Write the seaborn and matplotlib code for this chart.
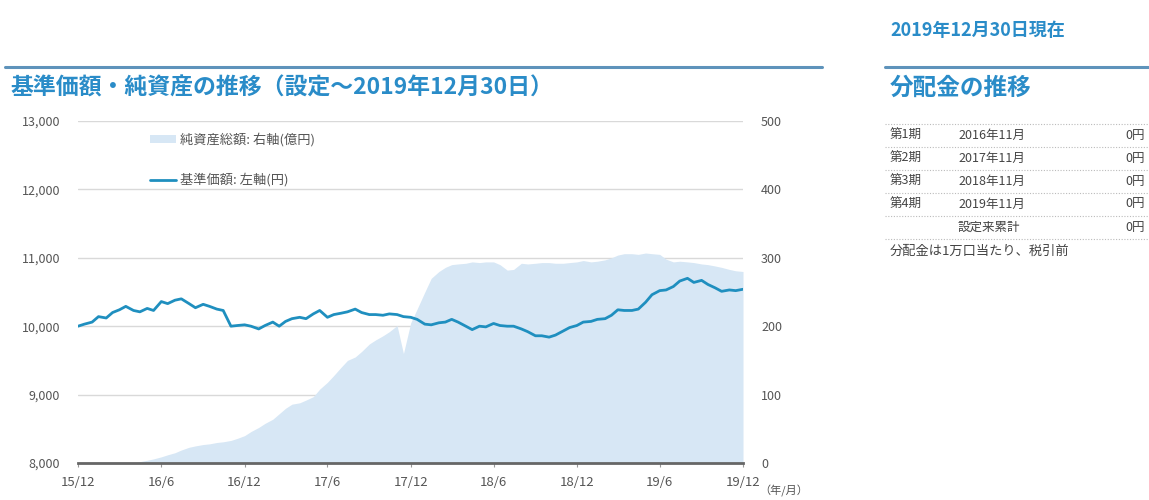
import pandas as pd
import seaborn as sns
import matplotlib.pyplot as plt
from matplotlib.lines import Line2D
from matplotlib.patches import Patch

# 半月ごとの観測日（2015/12 ～ 2019/12）
dates = pd.date_range("2015-12-01", "2019-12-01", freq="SMS")

# 基準価額（円）: 左軸
nav = [
    10000, 10030, 10060, 10140, 10120, 10200, 10240, 10290, 10230, 10210,
    10260, 10230, 10360, 10330, 10380, 10400, 10330, 10270, 10320, 10290,
    10250, 10230, 10000, 10010, 10020, 10000, 9960, 10010, 10060, 10000,
    10070, 10110, 10130, 10110, 10180, 10230, 10130, 10170, 10190, 10210,
    10250, 10200, 10170, 10170, 10160, 10180, 10170, 10140, 10130, 10100,
    10030, 10020, 10050, 10060, 10100, 10060, 10000, 9950, 10000, 9990,
    10040, 10010, 10000, 10000, 9960, 9920, 9860, 9860, 9840, 9870,
    9930, 9980, 10010, 10060, 10070, 10100, 10110, 10160, 10240, 10230,
    10230, 10250, 10350, 10460, 10520, 10530, 10580, 10660, 10700, 10640,
    10670, 10610, 10560, 10510, 10530, 10520, 10540,
]

# 純資産総額（億円）: 右軸
net_assets = [
    0, 0, 0, 0, 0, 0, 0, 0, 0, 2,
    4, 6, 9, 12, 15, 19, 23, 25, 27, 28,
    30, 31, 33, 36, 40, 46, 52, 58, 64, 72,
    80, 86, 88, 92, 97, 108, 118, 128, 140, 150,
    155, 163, 174, 180, 186, 192, 201, 160, 205, 225,
    250, 270, 280, 286, 290, 291, 292, 294, 293, 294,
    294, 290, 282, 283, 292, 291, 292, 293, 293, 292,
    292, 293, 294, 296, 294, 295, 297, 300, 304, 306,
    306, 305, 307, 306, 305, 298, 294, 295, 294, 293,
    291, 290, 288, 286, 283, 281, 280,
]

left_ticks = [8000, 9000, 10000, 11000, 12000, 13000]
right_ticks = [0, 100, 200, 300, 400, 500]
x_ticks = pd.date_range("2015-12-01", "2019-12-01", freq="6MS")
x_labels = ["15/12", "16/6", "16/12", "17/6", "17/12", "18/6", "18/12", "19/6", "19/12"]

periods = ["第1期", "第2期", "第3期", "第4期", ""]
pay_months = ["2016年11月", "2017年11月", "2018年11月", "2019年11月", "設定来累計"]
payouts = ["0円", "0円", "0円", "0円", "0円"]

df = pd.DataFrame({"date": dates, "nav": nav, "assets": net_assets})

sns.set_theme(style="white")
plt.rcParams["font.family"] = ["Noto Sans CJK JP", "DejaVu Sans"]

BLUE = "#2a8cc8"
LINE = "#1f8fbf"
AREA = "#d7e7f5"
GRAY = "#555555"

fig = plt.figure(figsize=(11.49, 5.0), dpi=100)
fig.patch.set_facecolor("white")
ax = fig.add_axes([78 / 1149, 1 - 463 / 500, 665 / 1149, 342 / 500])
ax2 = ax.twinx()
ax.set_zorder(ax2.get_zorder() + 1)
ax.patch.set_visible(False)

# 純資産総額（面）
ax2.fill_between(df["date"], 0, df["assets"], color=AREA, linewidth=0, zorder=2)
ax2.set_ylim(0, 500)
ax2.set_yticks(right_ticks)
ax2.set_yticklabels([str(v) for v in right_ticks])
ax2.set_axisbelow(True)
ax2.grid(axis="y", color="#d9d9d9", linewidth=1.0)
ax2.grid(axis="x", visible=False)

# 基準価額（線）
sns.lineplot(data=df, x="date", y="nav", ax=ax, color=LINE, linewidth=2.0, legend=False)
ax.set_ylim(8000, 13000)
ax.set_yticks(left_ticks)
ax.set_yticklabels([f"{v:,}" for v in left_ticks])
ax.set_xlim(dates[0], dates[-1])
ax.set_xticks(x_ticks)
ax.set_xticklabels(x_labels)
ax.set_xlabel("")
ax.set_ylabel("")
ax.grid(False)

for a in (ax, ax2):
    for s in ("top", "left", "right", "bottom"):
        a.spines[s].set_visible(False)
ax.spines["bottom"].set_visible(True)
ax.spines["bottom"].set_color("#666666")
ax.spines["bottom"].set_linewidth(2.0)

ax.tick_params(axis="y", length=0, labelsize=9, labelcolor=GRAY, pad=13)
ax2.tick_params(axis="y", length=0, labelsize=9, labelcolor=GRAY, pad=13)
ax.tick_params(axis="x", length=3, width=0.8, color="#999999", direction="out",
               labelsize=9.5, labelcolor=GRAY, pad=6, bottom=True)
fig.text(759 / 1149, 1 - 491 / 500, "（年/月）", fontsize=8, color=GRAY, va="center", ha="left")

# 凡例
handles = [Patch(facecolor=AREA, edgecolor="none"),
           Line2D([0], [0], color=LINE, linewidth=2.0)]
labels = ["純資産総額: 右軸(億円)", "基準価額: 左軸(円)"]
ax.legend(handles, labels, loc="upper left", bbox_to_anchor=(0.09, 1.0), frameon=False,
          fontsize=9.5, labelcolor=GRAY, labelspacing=2.0, handlelength=2.0,
          handletextpad=0.3, handleheight=0.6)

# 見出し
fig.add_artist(Line2D([5 / 1149, 822 / 1149], [1 - 67 / 500] * 2, color="#5e93bb", linewidth=2.2))
fig.text(10 / 1149, 1 - 88 / 500, "基準価額・純資産の推移（設定～2019年12月30日）",
         fontsize=16.5, fontweight="bold", color=BLUE, va="center", ha="left")

fig.text(890 / 1149, 1 - 30 / 500, "2019年12月30日現在",
         fontsize=13, fontweight="bold", color=BLUE, va="center", ha="left")
fig.add_artist(Line2D([885 / 1149, 1.0], [1 - 67 / 500] * 2, color="#5e93bb", linewidth=2.2))
fig.text(890 / 1149, 1 - 88 / 500, "分配金の推移",
         fontsize=17, fontweight="bold", color=BLUE, va="center", ha="left")

# 分配金テーブル
row_y = [135, 158, 181, 204, 227]
for y in [124, 147, 170, 193, 216, 239]:
    fig.add_artist(Line2D([885 / 1149, 1.0], [1 - y / 500] * 2, color="#bbbbbb",
                          linewidth=0.8, linestyle=(0, (1, 1.5))))
for p, m, v, y in zip(periods, pay_months, payouts, row_y):
    fy = 1 - y / 500
    fig.text(890 / 1149, fy, p, fontsize=9, color="#444444", va="center", ha="left")
    fig.text(958 / 1149, fy, m, fontsize=9, color="#444444", va="center", ha="left")
    fig.text(1125 / 1149, fy, v, fontsize=9, color="#444444", va="center", ha="left")
fig.text(890 / 1149, 1 - 251 / 500, "分配金は1万口当たり、税引前",
         fontsize=9.5, color="#444444", va="center", ha="left")

fig.savefig("out.png", dpi=100, facecolor="white")
